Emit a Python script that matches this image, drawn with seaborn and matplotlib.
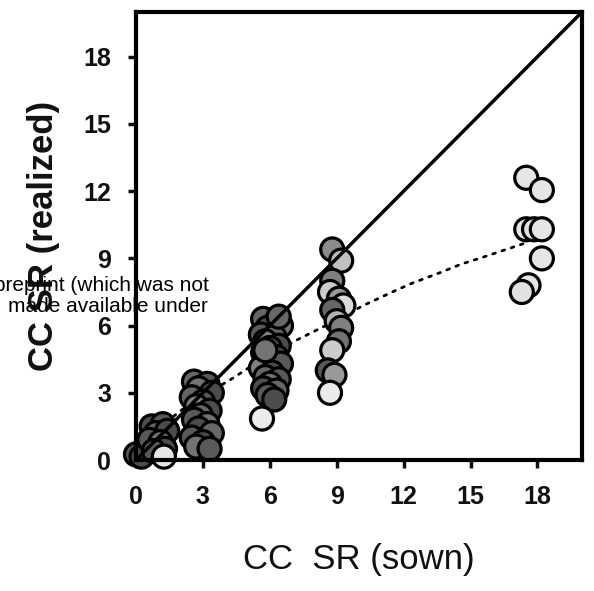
import numpy as np
import pandas as pd
import matplotlib
matplotlib.use("Agg")
import matplotlib.pyplot as plt
import seaborn as sns

# ---- data ----
sown = [0.0, 0.25, 0.7, 1.2, 0.9, 1.4, 0.6, 1.1, 1.3, 0.8, 1.25,
        2.6, 3.2, 2.8, 3.4, 2.5, 3.0, 2.7, 3.3, 2.9, 2.6, 3.2, 2.8, 3.4, 2.5, 3.0, 2.7, 3.3,
        5.7, 6.3, 5.9, 6.5, 5.6, 6.2, 5.8, 6.4, 6.0, 5.7, 6.3, 5.9, 6.5, 5.6, 6.1, 5.8, 6.4,
        6.0, 5.7, 6.3, 5.9, 6.2, 5.8, 6.4, 5.65,
        8.8, 9.2, 8.8, 8.7, 9.1, 9.3, 8.8, 9.0, 9.2, 9.1, 8.8, 8.6, 8.9, 8.7,
        17.5, 18.2, 17.5, 17.85, 18.2, 18.2, 17.6, 17.3]
realized = [0.25, 0.15, 1.5, 1.6, 1.2, 1.3, 0.9, 0.8, 0.5, 0.4, 0.15,
            3.5, 3.4, 3.2, 3.0, 2.8, 2.6, 2.4, 2.2, 2.0, 1.8, 1.6, 1.4, 1.2, 1.0, 0.8, 0.6, 0.5,
            6.3, 6.2, 5.9, 6.0, 5.6, 5.5, 5.3, 5.1, 5.0, 4.8, 4.6, 4.4, 4.3, 4.1, 3.9, 3.7, 3.6,
            3.4, 3.2, 3.1, 2.9, 2.7, 4.9, 6.4, 1.85,
            9.4, 8.9, 8.0, 7.5, 7.2, 6.9, 6.7, 6.2, 5.9, 5.3, 4.9, 4.0, 3.8, 3.0,
            12.6, 12.05, 10.3, 10.3, 10.3, 9.0, 7.8, 7.5]
shade = [0.35, 0.3, 0.3, 0.35, 0.4, 0.3, 0.35, 0.45, 0.3, 0.35, 0.9,
         0.4, 0.35, 0.45, 0.3, 0.4, 0.35, 0.5, 0.3, 0.4, 0.35, 0.45, 0.3, 0.4, 0.35, 0.3, 0.45, 0.35,
         0.4, 0.35, 0.3, 0.45, 0.35, 0.4, 0.5, 0.3, 0.35, 0.45, 0.3, 0.4, 0.35, 0.5, 0.3, 0.4, 0.35,
         0.45, 0.3, 0.4, 0.35, 0.3, 0.45, 0.4, 0.92,
         0.55, 0.75, 0.5, 0.8, 0.6, 0.85, 0.4, 0.7, 0.5, 0.45, 0.8, 0.35, 0.6, 0.92,
         0.9, 0.9, 0.9, 0.88, 0.9, 0.9, 0.9, 0.88]

diag_x = [0, 20]
diag_y = [0, 20]

fit_x = [1.0, 2.0, 3.0, 4.1, 5.5, 7.1, 8.5, 10.2, 11.6, 12.4, 13.6, 14.6, 15.4, 16.3, 17.5]
fit_y = [1.4, 2.2, 2.9, 3.5, 4.4, 5.3, 6.0, 6.9, 7.55, 7.9, 8.35, 8.75, 9.0, 9.3, 9.7]

ticks = [0, 3, 6, 9, 12, 15, 18]

df = pd.DataFrame({"sown": sown, "realized": realized, "shade": shade})

sns.set_theme(style="ticks")
plt.rcParams['font.family'] = ['Liberation Sans', 'DejaVu Sans']

fig = plt.figure(figsize=(5.94, 5.91), dpi=100)
ax = fig.add_axes([136 / 594, 1 - 460 / 591, 446 / 594, 448 / 591])

sns.lineplot(x=fit_x, y=fit_y, ax=ax, color="black", lw=2.0,
             linestyle=(0, (1, 2.5)), dash_capstyle="round", zorder=1)
sns.scatterplot(data=df, x="sown", y="realized", hue="shade", palette="gray",
                hue_norm=(0, 1), s=275, edgecolor="black", linewidth=2.3,
                legend=False, ax=ax, zorder=2, clip_on=False)
sns.lineplot(x=diag_x, y=diag_y, ax=ax, color="black", lw=2.5, zorder=3)

ax.set_xlim(0, 20)
ax.set_ylim(0, 20)
ax.set_xticks(ticks)
ax.set_yticks(ticks)
ax.set_xticklabels([str(t) for t in ticks])
ax.set_yticklabels([str(t) for t in ticks])
ax.tick_params(direction="out", length=6, width=2.5, pad=12, labelsize=18,
               colors="#111111")
for lbl in ax.get_xticklabels() + ax.get_yticklabels():
    lbl.set_fontweight("bold")

for sp in ax.spines.values():
    sp.set_visible(True)
    sp.set_linewidth(3)
    sp.set_color("black")

ax.set_xlabel("CC  SR (sown)", fontsize=25, color="#111111")
ax.xaxis.set_label_coords(0.5, -0.185)
ax.set_ylabel("CC SR (realized)", fontsize=25, fontweight="bold", color="#111111")
ax.yaxis.set_label_coords(-0.170, 0.5)

fig.text(-6 / 594, 1 - 291 / 591, "preprint (which was not", fontsize=15,
         ha="left", va="baseline", color="black", zorder=10)
fig.text(8 / 594, 1 - 312 / 591, "made available under", fontsize=15,
         ha="left", va="baseline", color="black", zorder=10)

fig.savefig("out.png", dpi=100)
